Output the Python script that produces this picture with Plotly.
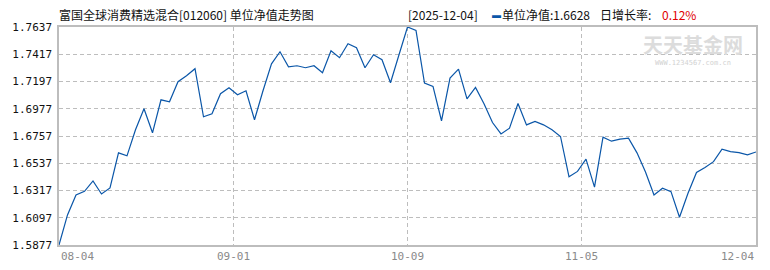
import plotly.graph_objects as go

title_text = "富国全球消费精选混合[012060] 单位净值走势图"
latest_date = "2025-12-04"
latest_nav = "1.6628"
daily_growth = "0.12%"

nav = [
    1.5877, 1.6120, 1.6281, 1.6310, 1.6394, 1.6289, 1.6338, 1.6621, 1.6597, 1.6807,
    1.6977, 1.6783, 1.7049, 1.7033, 1.7195, 1.7243, 1.7300, 1.6912, 1.6936, 1.7098,
    1.7146, 1.7090, 1.7122, 1.6888, 1.7122, 1.7340, 1.7437, 1.7316, 1.7324, 1.7308,
    1.7324, 1.7268, 1.7445, 1.7389, 1.7502, 1.7470, 1.7308, 1.7413, 1.7373, 1.7187,
    1.7413, 1.7637, 1.7610, 1.7184, 1.7157, 1.6880, 1.7225, 1.7297, 1.7057, 1.7149,
    1.7017, 1.6866, 1.6774, 1.6820, 1.7019, 1.6847, 1.6874, 1.6847, 1.6807, 1.6753,
    1.6427, 1.6471, 1.6570, 1.6344, 1.6748, 1.6715, 1.6732, 1.6740, 1.6621, 1.6467,
    1.6281, 1.6335, 1.6308, 1.6101, 1.6295, 1.6462, 1.6502, 1.6550, 1.6651, 1.6631,
    1.6623, 1.6605, 1.6628,
]
x_idx = list(range(len(nav)))
n = len(nav) - 1

x_tick_labels = ["08-04", "09-01", "10-09", "11-05", "12-04"]
y_min, y_max = 1.5877, 1.7637
y_ticks = [round(y_min + i * (y_max - y_min) / 8, 4) for i in range(9)]
x_tick_pos = [n * i / 4 for i in range(5)]

line_color = "#0a56a8"
grid_color = "#bdbdbd"
mono = "DejaVu Sans Mono"
cjk = "Noto Sans CJK SC"

fig = go.Figure()
fig.add_trace(go.Scatter(x=x_idx, y=nav, mode="lines",
                         line=dict(color=line_color, width=1.2),
                         hoverinfo="skip", showlegend=False))

fig.update_layout(
    width=770, height=270,
    margin=dict(l=54, r=12, t=27, b=25),
    plot_bgcolor="white", paper_bgcolor="white",
    showlegend=False,
)
fig.update_xaxes(
    range=[0, n], tickvals=x_tick_pos[1:-1], showticklabels=False,
    showgrid=True, gridcolor=grid_color, griddash="4px,3px", gridwidth=1,
    showline=True, linecolor=grid_color, linewidth=1.5, mirror=True,
    zeroline=False, ticks="",
)
fig.update_yaxes(
    range=[y_min, y_max], tickvals=y_ticks,
    ticktext=[f"{v:.4f}" for v in y_ticks],
    tickfont=dict(family=mono, size=11, color="#111"),
    showgrid=True, gridcolor=grid_color, griddash="4px,3px", gridwidth=1,
    showline=True, linecolor=grid_color, linewidth=1.5, mirror=True,
    zeroline=False, ticks="", ticklabelstandoff=3,
)

for i, (pos, lab) in enumerate(zip(x_tick_pos, x_tick_labels)):
    anchor = "left" if i == 0 else ("right" if i == len(x_tick_labels) - 1 else "center")
    fig.add_annotation(x=pos, y=0, xref="x", yref="paper", text=lab, showarrow=False,
                       xanchor=anchor, yanchor="top", yshift=-3,
                       font=dict(family=mono, size=11, color="#8a8a8a"))

# plot-area fraction helpers (plot area: x 54..758, y 27..245)
def fx(px):
    return (px - 54) / (758 - 54)

def fy(py):
    return (245 - py) / (245 - 27)

def top_text(px, py, text, color="#111", size=12, family=cjk, anchor="left"):
    fig.add_annotation(x=fx(px), y=fy(py), xref="paper", yref="paper",
                       text=text, showarrow=False, xanchor=anchor, yanchor="middle",
                       font=dict(family=family, size=size, color=color))

top_text(52, 14, title_text)
top_text(404, 14, f"[{latest_date}]")
top_text(489, 14, "▬", color=line_color, size=9)
top_text(499, 14, f"单位净值:{latest_nav}")
top_text(598, 14, "日增长率:")
top_text(661, 14, daily_growth, color="#e00000")

# watermark
top_text(694, 45, "<b>天天基金网</b>", color="#dcdcdc", size=20, anchor="center")
top_text(694, 63, "WWW.1234567.com.cn", color="#d2d2d2", size=7, family=mono, anchor="center")

fig.write_html("out.html")
